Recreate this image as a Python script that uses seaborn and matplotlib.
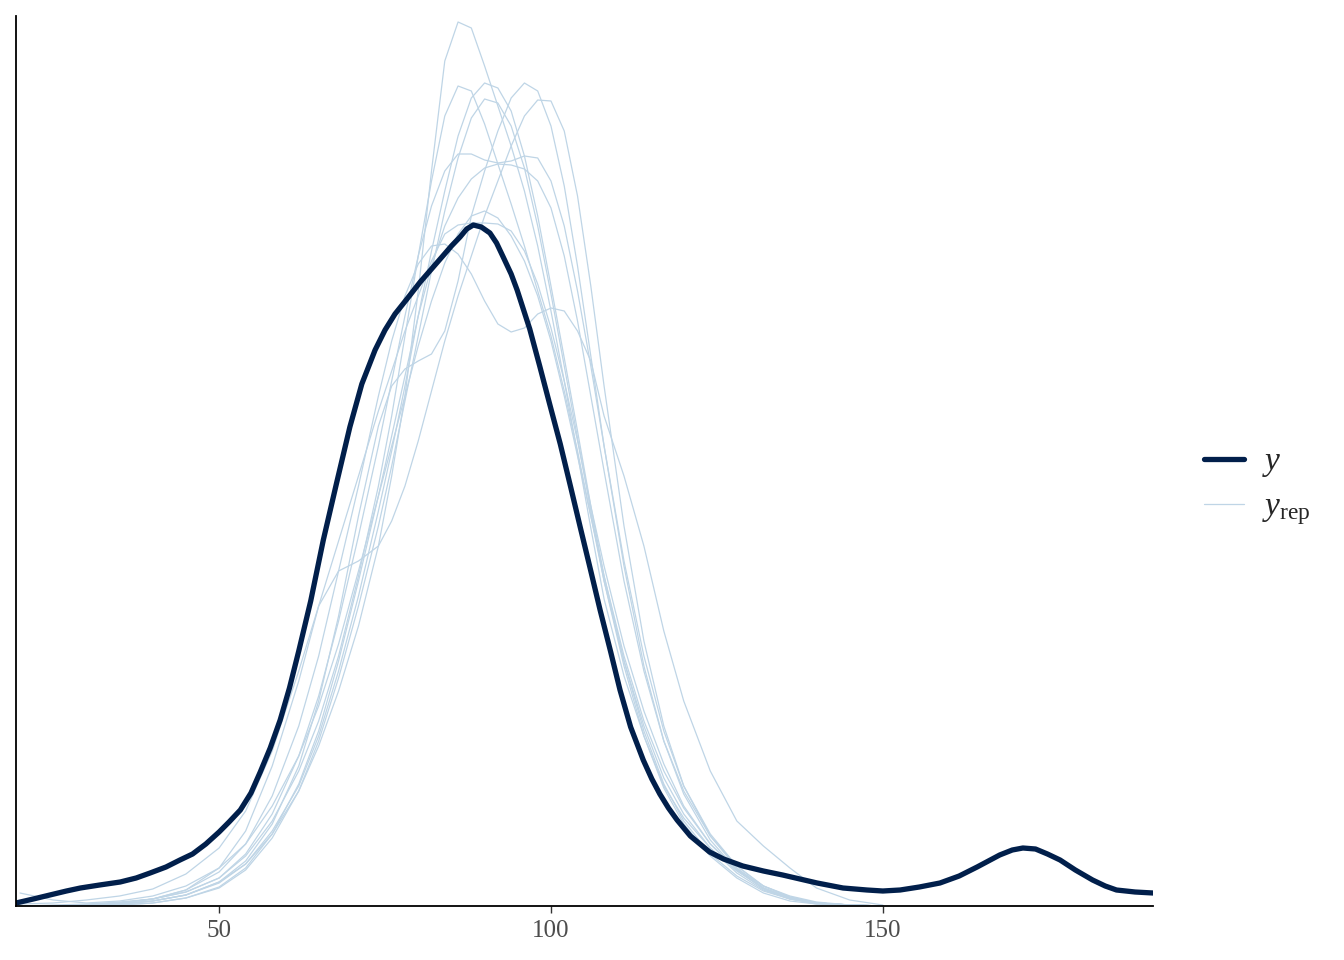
import matplotlib
matplotlib.use("Agg")
import matplotlib.pyplot as plt
import seaborn as sns
from matplotlib.lines import Line2D

# ---------------- data ----------------
# observed y: kernel density, x values and density heights (arbitrary units; y axis unlabelled)
y_x = [19.4, 22.0, 24.5, 27.0, 29.1, 32.0, 35.1, 37.5, 39.6, 42.0, 44.1, 46.0, 48.0, 50.0,
       51.5, 53.2, 54.8, 56.2, 57.7, 59.2, 60.6, 62.0, 63.8, 65.7, 67.7, 69.7, 71.5, 73.5,
       75.0, 76.5, 78.3, 80.3, 82.0, 83.7, 85.0, 86.3, 87.3, 88.3, 89.5, 90.8, 91.8, 92.8,
       94.0, 94.9, 96.8, 98.3, 99.8, 101.4, 103.0, 104.4, 106.0, 107.4, 109.0, 110.4,
       112.0, 113.9, 115.2, 116.4, 117.7, 119.0, 121.0, 123.9, 126.0, 128.9, 132.0, 134.9,
       137.5, 140.1, 144.0, 147.6, 150.0, 152.6, 155.5, 158.6, 161.5, 164.2, 167.6, 169.5,
       171.1, 173.0, 174.8, 176.7, 179.0, 181.6, 183.5, 185.2, 188.0, 190.7]
y_dens = [3, 7, 11, 15, 18, 21, 24, 28, 33, 39, 46, 52, 62, 74,
          84, 96, 113, 134, 158, 186, 218, 255, 305, 366, 423, 479, 522, 556,
          576, 592, 607, 624, 637, 650, 660, 669, 677, 681, 679, 673, 663, 649,
          632, 616, 577, 540, 502, 462, 418, 379, 335, 296, 254, 216,
          179, 146, 127, 112, 98, 86, 70, 54, 47, 40, 35, 31,
          27, 23, 18, 16, 15, 16, 19, 23, 30, 39, 51, 56,
          58, 57, 52, 46, 36, 26, 20, 16, 14, 13]

# replicated draws (y_rep): density heights on a common x grid
rep_x = [20, 25, 30, 35, 40, 45, 50, 54, 58, 62, 65, 68, 71, 74, 76, 78, 80, 82, 84, 86, 88,
         90, 92, 94, 96, 98, 100, 102, 104, 106, 108, 111, 114, 117, 120, 124, 128, 132, 136,
         140, 145, 150]
rep_01 = [0, 0, 1, 2, 5, 11, 24, 42, 72, 115, 160, 215, 280, 360, 430, 510, 615, 735, 845, 884, 878,
          840, 800, 760, 715, 660, 595, 525, 452, 378, 307, 230, 170, 120, 88, 58, 35, 18, 8,
          3, 1, 0]
rep_02 = [0, 1, 2, 4, 7, 14, 28, 50, 85, 135, 185, 250, 330, 420, 490, 570, 650, 725, 790, 820, 815,
          782, 742, 702, 660, 615, 570, 515, 455, 390, 325, 245, 180, 128, 92, 58, 33, 16, 7,
          3, 1, 0]
rep_03 = [0, 0, 1, 2, 5, 11, 23, 42, 75, 120, 170, 235, 310, 395, 455, 520, 590, 655, 715, 770, 808,
          823, 818, 795, 750, 690, 620, 548, 475, 400, 330, 245, 175, 122, 85, 52, 30, 15, 7,
          3, 1, 0]
rep_04 = [0, 0, 0, 1, 3, 8, 18, 36, 68, 115, 165, 228, 300, 380, 440, 505, 570, 635, 695, 748, 788,
          807, 803, 780, 738, 680, 612, 540, 468, 395, 325, 240, 170, 118, 82, 50, 28, 13, 5,
          2, 1, 0]
rep_05 = [0, 0, 1, 2, 5, 11, 24, 45, 82, 140, 205, 290, 390, 480, 520, 537, 545, 552, 575, 625, 690,
          735, 775, 808, 823, 815, 780, 720, 640, 550, 460, 340, 240, 165, 115, 70, 40, 20, 9,
          3, 1, 0]
rep_06 = [0, 0, 1, 3, 7, 16, 38, 75, 140, 225, 300, 335, 345, 360, 385, 420, 465, 515, 565, 610, 650,
          690, 725, 760, 790, 806, 805, 775, 710, 620, 520, 380, 265, 180, 120, 70, 38, 18, 8,
          3, 1, 0]
rep_07 = [0, 0, 1, 3, 7, 14, 28, 52, 92, 150, 210, 285, 370, 460, 525, 590, 650, 700, 735, 752, 752,
          746, 743, 745, 750, 748, 725, 680, 615, 540, 460, 345, 250, 175, 120, 72, 40, 20, 9,
          3, 1, 0]
rep_08 = [0, 0, 0, 1, 3, 8, 19, 38, 72, 122, 175, 245, 325, 410, 470, 530, 590, 640, 680, 708, 727,
          738, 742, 741, 737, 725, 698, 650, 585, 510, 435, 325, 235, 165, 112, 66, 36, 17, 7,
          2, 1, 0]
rep_09 = [13, 6, 3, 5, 10, 20, 38, 62, 100, 150, 200, 262, 335, 410, 460, 510, 560, 605, 643, 672, 690,
          695, 688, 670, 645, 610, 565, 510, 450, 390, 330, 250, 185, 135, 98, 62, 37, 20, 10,
          4, 1, 0]
rep_10 = [2, 3, 6, 10, 17, 32, 58, 95, 155, 235, 300, 365, 430, 495, 535, 575, 610, 645, 672, 681, 683,
          683, 682, 675, 655, 622, 578, 525, 465, 400, 340, 260, 195, 142, 100, 62, 36, 18, 8,
          3, 1, 0]
rep_11 = [0, 0, 1, 3, 7, 16, 34, 62, 110, 180, 250, 335, 420, 510, 565, 610, 642, 660, 662, 652, 632,
          605, 582, 574, 578, 592, 598, 595, 575, 545, 490, 430, 360, 275, 205, 135, 85, 60, 38,
          18, 6, 1]

yrep_series = [rep_01, rep_02, rep_03, rep_04, rep_05, rep_06, rep_07, rep_08, rep_09, rep_10, rep_11]

x_ticks = [50, 100, 150]
legend_labels = ["$y$", "$y_{\\mathrm{rep}}$"]

# ---------------- styling ----------------
dark = "#011f4b"
light = "#bfd5e6"

sns.set_theme(style="white")
plt.rcParams["font.family"] = ["Liberation Serif", "DejaVu Serif"]
plt.rcParams["mathtext.fontset"] = "custom"
plt.rcParams["mathtext.rm"] = "Liberation Serif"
plt.rcParams["mathtext.it"] = "Liberation Serif:italic"

W, H = 1344, 960
fig = plt.figure(figsize=(W / 100, H / 100), dpi=100)
ax = fig.add_axes([16 / W, (H - 906) / H, (1153 - 16) / W, (906 - 16) / H])

for s in yrep_series:
    sns.lineplot(x=rep_x, y=s, ax=ax, color=light, linewidth=0.9,
                 estimator=None, sort=False, legend=False)
sns.lineplot(x=y_x, y=y_dens, ax=ax, color=dark, linewidth=3.8,
             estimator=None, sort=False, legend=False)
for ln in ax.lines:
    ln.set_solid_joinstyle("round")

ax.set_xlim(19.4, 190.7)
ax.set_ylim(0, 890)
ax.set_xticks(x_ticks)
ax.set_xticklabels([str(t) for t in x_ticks])
ax.set_yticks([])
ax.set_xlabel("")
ax.set_ylabel("")
for side in ["top", "right"]:
    ax.spines[side].set_visible(False)
for side in ["left", "bottom"]:
    ax.spines[side].set_color("black")
    ax.spines[side].set_linewidth(1.3)
ax.tick_params(axis="x", bottom=True, length=5, width=1.0, color="#333333",
               labelcolor="#4d4d4d", labelsize=18, pad=5)

handles = [Line2D([], [], color=dark, lw=3.8, solid_capstyle="round"),
           Line2D([], [], color=light, lw=0.9)]
fig.legend(handles, legend_labels, loc="center left",
           bbox_to_anchor=(1204 / W, 1 - 487 / H), frameon=False, fontsize=24,
           handlelength=1.2, handletextpad=0.55, labelspacing=0.38,
           borderaxespad=0, borderpad=0)

fig.savefig("out.png", dpi=100)
